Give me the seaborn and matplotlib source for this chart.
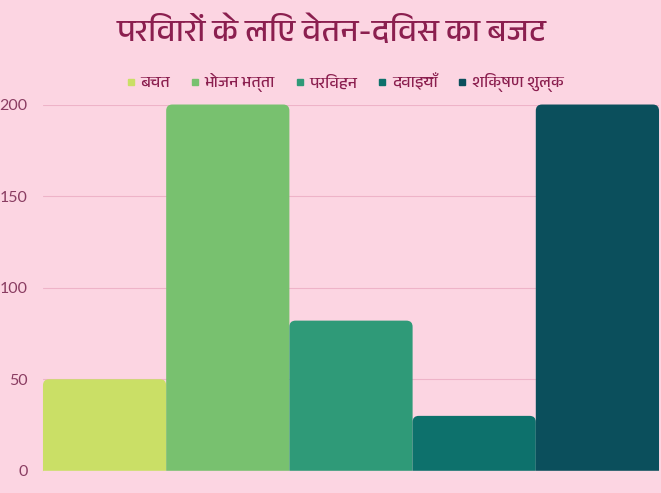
import matplotlib
matplotlib.use('Agg')
import matplotlib.pyplot as plt
from matplotlib import font_manager as fm
from matplotlib.lines import Line2D
from matplotlib.patches import FancyBboxPatch
import seaborn as sns
from fontTools.ttLib import TTFont

categories = ['बचत', 'भोजन भत्ता', 'परिवहन', 'दवाइयाँ', 'शिक्षण शुल्क']
values = [50, 200, 82, 30, 200]
colors = ['#cadf66', '#78c16f', '#2f9a78', '#0d716c', '#0b4f5c']
yticks = [0, 50, 100, 150, 200]
title = 'परिवारों के लिए वेतन-दिवस का बजट'


def find_devanagari_font():
    fonts = sorted(fm.fontManager.ttflist, key=lambda f: 'Devanagari' not in f.name)
    for f in fonts:
        try:
            cmap = TTFont(f.fname, fontNumber=0, lazy=True).getBestCmap()
        except Exception:
            continue
        if cmap and 0x092A in cmap:
            return f.name
    return None


deva = find_devanagari_font()
families = [deva, 'DejaVu Sans'] if deva else ['DejaVu Sans']

bg = '#fcd5e2'
sns.set_theme(style='white')
plt.rcParams['font.family'] = families

fig = plt.figure(figsize=(6.61, 4.93), dpi=100, facecolor=bg)
ax = fig.add_axes([0.065, 0.045, 0.932, 0.743])
ax.set_facecolor(bg)

sns.barplot(x=categories, y=values, hue=categories, palette=colors, width=1,
            legend=False, ax=ax, saturation=1)

# rounded top corners, bottom hidden below the axis
x_px = 0.932 * 661 / 5
y_px = 0.743 * 493 / 200
for p in list(ax.patches):
    x0, w, h = p.get_x(), p.get_width(), p.get_height()
    fc = p.get_facecolor()
    p.remove()
    ax.add_patch(FancyBboxPatch((x0, -5), w, h + 5,
                                boxstyle='round,pad=0,rounding_size=0.05',
                                mutation_aspect=x_px / y_px,
                                facecolor=fc, edgecolor='none', zorder=2,
                                clip_on=False))

ax.set_xlim(-0.5, 4.5)
ax.set_ylim(0, 200)
ax.set_yticks(yticks)
ax.set_yticklabels([str(t) for t in yticks], color='#8a3d62', fontsize=11.5,
                   family=['Lato', 'DejaVu Sans'])
ax.set_xticks([])
ax.set_xlabel('')
ax.set_ylabel('')
ax.tick_params(axis='y', length=0, pad=11)
ax.grid(axis='y', color='#eeb3c8', lw=0.8, zorder=0)
ax.set_axisbelow(True)
for s in ax.spines.values():
    s.set_visible(False)

fig.text(0.501, 0.938, title, ha='center', va='center', fontsize=23, color='#8b1f4f')

handles = [Line2D([], [], marker='s', ls='none', color=c, markersize=5) for c in colors]
fig.legend(handles, categories, loc='center', bbox_to_anchor=(0.522, 0.832), ncol=5,
           frameon=False, fontsize=11.5, labelcolor='#8b1f4f', handlelength=0.6,
           handletextpad=0.3, columnspacing=1.25)

# cover the rounded bottoms that spill below the axis
ax.axhspan(-10, 0, color=bg, zorder=3, clip_on=False)
ax.set_ylim(0, 200)

fig.savefig('out.png', dpi=100, facecolor=bg)
